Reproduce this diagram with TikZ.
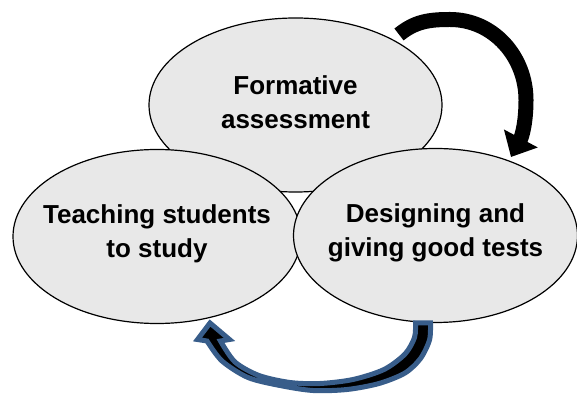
\documentclass[tikz,border=0pt]{standalone}
\usepackage{fontspec}
\setmainfont{Liberation Sans}
\usetikzlibrary{shapes.geometric,arrows.meta}
\definecolor{bubblegray}{RGB}{232,232,232}
\definecolor{loopblue}{HTML}{385D8A}

\begin{document}
\begin{tikzpicture}[x=1pt,y=1pt,
    bubble/.style={ellipse, draw=black, line width=1.2pt, fill=bubblegray,
      minimum width=288pt, minimum height=174pt, inner sep=0pt},
    bubbletext/.style={align=center, font=\bfseries\fontsize{26}{34}\selectfont, yshift=3pt},
    turnarrow/.style={line width=15pt, -{Triangle[width=37pt,length=21pt]}},
    looparrow/.style={fill=black, draw=loopblue, line width=5pt}]
  \useasboundingbox (0,0) rectangle (577,393);

  % the three fields
  \node[bubble, minimum width=293pt] (fa) at (295.5,288) {};
  \node[bubble] (ts) at (157,156.5) {};
  \node[bubble, minimum width=284pt] (dg) at (435.5,157.5) {};

  \node[bubbletext] (faText) at (fa.center) {Formative\\assessment};
  \node[bubbletext] (tsText) at (ts.center) {Teaching students\\to study};
  \node[bubbletext] (dgText) at (dg.center) {Designing and\\giving good tests};

  % black arrow over the top
  \coordinate (cwTail) at (399,358.5);
  \coordinate (cwTop) at (450,373.5);
  \coordinate (cwRight) at (526,293);
  \coordinate (cwTip) at (511,236);
  \draw[turnarrow] (cwTail) to[out=39,in=180] (cwTop) to[out=0,in=90] (cwRight)
    to[out=-90,in=62] (cwTip);

  % blue arrow underneath
  \coordinate (ccTail) at (430.5,70);
  \coordinate (ccTip) at (210,70);
  \filldraw[looparrow] (ccTail)
    -- plot[smooth] coordinates {(430.5,70) (429.5,53) (420.5,34.5) (405,20) (379,9.5)
       (347,3.5) (313,2.5) (280,7.5) (248,15.5) (222,32) (207,52)}
    -- (197.5,53.5) -- (ccTip) -- (229.5,53.5)
    -- plot[smooth] coordinates {(220.5,52) (235,31) (259,17.5) (290,10.5) (320,9.5)
       (353,13.5) (384,23.5) (405,39) (414.5,55.5) (415.5,70)}
    -- cycle;
\end{tikzpicture}
\end{document}
